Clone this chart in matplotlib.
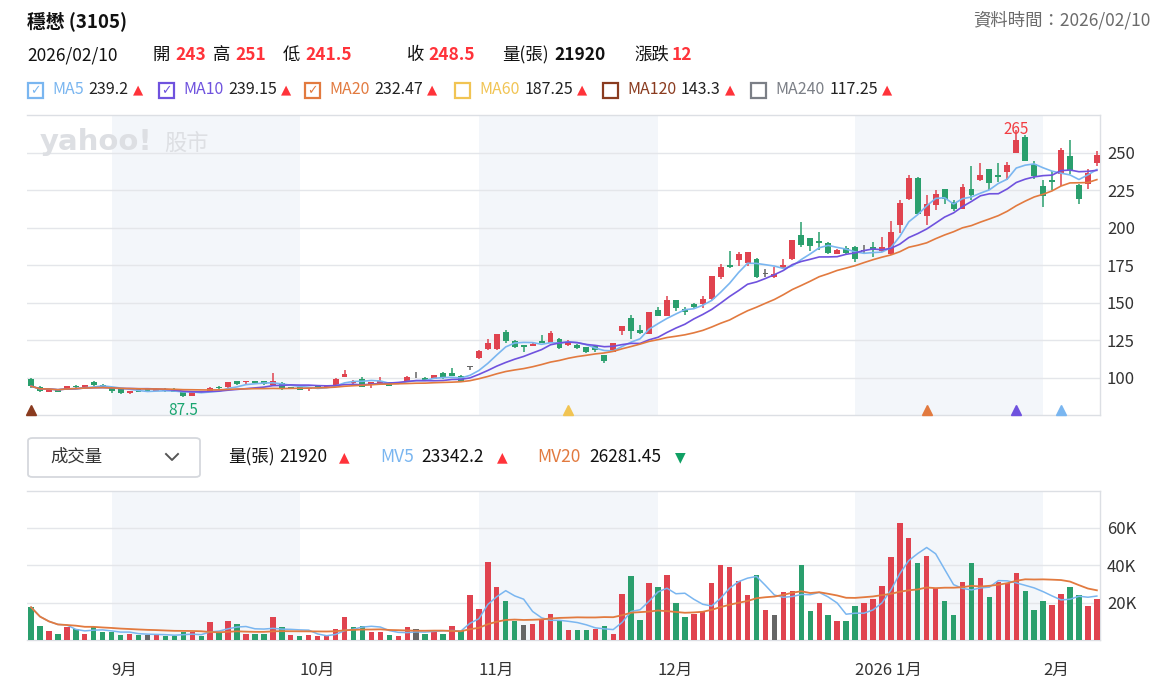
import numpy as np
import pandas as pd
import matplotlib
matplotlib.use('Agg')
import matplotlib.pyplot as plt
from matplotlib.patches import Rectangle, FancyBboxPatch
from matplotlib.lines import Line2D
import matplotlib.transforms as mtransforms

plt.rcParams['font.family'] = ['Noto Sans CJK TC', 'DejaVu Sans']

# --- data: 穩懋 (3105) daily bars, 2025/08/19 - 2026/02/10 -------------------
opens = [99.5, 93.8, 90.9, 92.0, 92.0, 94.7, 94.2, 97.1, 95.6, 93.1,
         92.4, 89.8, 92.7, 92.4, 91.3, 92.9, 92.9, 90.7, 88.2, 91.3,
         91.1, 93.9, 93.8, 97.8, 97.3, 97.8, 98.0, 95.3, 96.9, 93.9,
         94.2, 92.5, 94.6, 93.9, 95.1, 100.9, 96.4, 99.3, 95.3, 96.7,
         97.1, 96.8, 97.6, 100.4, 100.2, 99.3, 103.6, 103.6, 101.3, 107.5,
         113.1, 119.1, 119.1, 130.5, 124.9, 122.0, 121.6, 124.4, 123.6, 126.2,
         122.0, 122.0, 120.4, 121.3, 115.3, 117.3, 131.4, 140.3, 132.0, 129.5,
         145.3, 141.3, 152.0, 145.7, 149.3, 149.1, 152.4, 167.3, 175.3, 178.9,
         176.4, 179.5, 169.5, 167.4, 173.5, 179.1, 195.2, 193.0, 191.3, 190.3,
         182.9, 186.6, 187.0, 184.9, 187.3, 184.6, 182.9, 202.0, 219.0, 233.5,
         207.8, 215.2, 226.0, 217.2, 212.7, 225.7, 232.2, 239.1, 235.1, 237.3,
         250.3, 260.4, 242.5, 227.7, 231.7, 236.0, 247.8, 228.4, 229.5, 243.0]
highs = [100.0, 94.7, 93.3, 92.4, 94.9, 95.6, 95.5, 98.0, 96.3, 93.6,
         92.7, 91.5, 93.0, 92.6, 93.1, 93.1, 93.1, 91.0, 91.1, 91.5,
         94.0, 94.4, 97.3, 98.0, 98.0, 98.2, 98.2, 103.6, 97.3, 94.2,
         94.7, 94.0, 94.9, 94.8, 99.9, 105.3, 98.7, 100.9, 97.6, 100.4,
         97.3, 97.6, 101.3, 103.8, 100.5, 102.2, 104.0, 106.9, 101.8, 107.5,
         118.7, 125.8, 129.5, 132.0, 125.3, 122.3, 123.3, 128.7, 131.0, 126.5,
         125.0, 122.5, 120.8, 121.6, 115.6, 123.3, 134.9, 142.0, 135.3, 144.0,
         147.1, 154.7, 152.3, 147.3, 150.3, 154.5, 168.2, 176.2, 184.7, 184.2,
         183.8, 180.0, 172.4, 174.2, 179.5, 192.3, 203.7, 193.3, 197.0, 190.6,
         185.8, 188.0, 187.8, 188.5, 190.6, 194.3, 204.8, 218.7, 235.2, 233.8,
         221.8, 225.5, 226.3, 218.5, 229.5, 241.1, 243.4, 239.5, 243.4, 244.0,
         265.0, 262.0, 244.7, 231.7, 237.8, 253.4, 258.6, 229.5, 239.6, 251.0]
lows = [93.5, 90.4, 90.5, 90.4, 91.8, 93.1, 94.0, 94.9, 93.8, 89.8,
        89.1, 89.6, 90.7, 90.6, 91.1, 90.9, 90.5, 87.5, 88.0, 89.8,
        90.9, 92.9, 93.6, 95.6, 95.5, 96.0, 95.5, 95.0, 92.0, 93.0,
        91.8, 91.4, 93.5, 93.5, 94.9, 100.6, 96.0, 93.8, 93.1, 96.5,
        94.6, 96.5, 97.4, 100.0, 98.5, 99.1, 99.5, 101.0, 97.8, 105.5,
        112.9, 118.5, 118.8, 123.1, 120.0, 117.5, 121.0, 123.2, 123.0, 119.5,
        121.5, 119.5, 116.8, 117.2, 109.8, 117.0, 128.7, 126.1, 129.5, 129.3,
        141.0, 141.0, 144.7, 142.0, 146.4, 146.4, 152.0, 166.2, 173.1, 174.8,
        174.5, 166.7, 167.6, 166.4, 173.0, 178.8, 187.6, 184.9, 185.0, 182.8,
        182.5, 182.8, 177.6, 183.5, 180.4, 184.3, 181.8, 196.8, 218.5, 209.2,
        201.8, 212.0, 216.0, 211.6, 212.5, 218.8, 231.5, 225.0, 230.6, 231.7,
        250.0, 244.5, 232.8, 214.3, 225.0, 228.0, 236.2, 216.1, 226.1, 241.5]
closes = [94.5, 91.0, 92.4, 90.7, 94.7, 94.2, 95.3, 95.1, 94.2, 91.6,
          90.2, 91.3, 90.9, 90.9, 92.9, 91.1, 90.7, 87.8, 90.9, 90.2,
          93.6, 93.3, 97.1, 96.0, 97.8, 96.4, 95.8, 97.8, 92.4, 93.5,
          92.2, 93.2, 93.8, 94.5, 99.6, 102.4, 98.2, 94.2, 97.3, 97.8,
          94.9, 97.3, 100.4, 100.4, 98.7, 102.0, 99.8, 101.3, 98.0, 107.5,
          118.2, 123.6, 129.3, 124.9, 120.4, 120.4, 122.9, 123.6, 130.2, 119.8,
          124.2, 119.8, 117.1, 118.7, 111.6, 123.0, 134.5, 131.6, 129.8, 143.7,
          141.3, 152.0, 146.4, 144.1, 147.0, 152.9, 168.0, 173.8, 174.0, 182.9,
          183.7, 167.3, 169.5, 169.5, 175.0, 192.0, 188.8, 188.2, 189.8, 183.1,
          185.3, 183.1, 179.1, 184.9, 185.5, 187.0, 197.6, 216.8, 233.5, 209.6,
          216.0, 222.5, 219.1, 212.7, 227.3, 221.7, 235.1, 230.2, 234.0, 241.8,
          258.6, 244.7, 234.4, 221.0, 230.6, 251.9, 238.9, 219.0, 236.5, 248.5]
volumes = [17500, 7500, 4800, 3400, 6800, 5900, 3400, 6800, 4100, 4100,
           2700, 3400, 2700, 2700, 3400, 2000, 2000, 4100, 4100, 2000,
           9500, 4100, 10200, 8800, 3400, 3400, 3400, 12100, 6800, 2700,
           2000, 2700, 2000, 2000, 6100, 12100, 6800, 7500, 4100, 4100,
           2700, 2000, 6800, 6100, 3400, 4800, 3400, 7500, 4800, 24100,
           16800, 41600, 28200, 20900, 10200, 8000, 8800, 11400, 14100, 10200,
           5400, 5400, 5400, 6100, 7500, 3400, 24800, 34300, 10700, 30200,
           28200, 34800, 19500, 12100, 14100, 14800, 30200, 40200, 38900, 31600,
           24100, 34800, 16100, 13400, 25500, 26300, 40200, 15500, 19500, 13400,
           10200, 10200, 18200, 19500, 22100, 28900, 44300, 62300, 54300, 40900,
           45000, 27500, 20900, 13400, 30900, 40900, 32900, 22900, 30900, 30200,
           35500, 26300, 16100, 20900, 18800, 24800, 28200, 24100, 18200, 21920]

holidays = ['2025-09-29', '2025-10-06', '2025-10-10', '2025-10-24',
            '2025-12-25', '2026-01-01']
dates = pd.bdate_range('2025-08-19', '2026-02-10', freq='C', holidays=holidays)

month_labels = ['9月', '10月', '11月', '12月', '2026 1月', '2月']

ma_names = ['MA5', 'MA10', 'MA20', 'MA60', 'MA120', 'MA240']
ma_periods = [5, 10, 20, 60, 120, 240]
ma_values = ['239.2', '239.15', '232.47', '187.25', '143.3', '117.25']
ma_shown = [True, True, True, False, False, False]
ma_colors = ['#7ab6f0', '#6f52de', '#e27a3f', '#f1c453', '#8a3b1f', '#7b7f86']

last_vol = 21920
mv5_value = '23342.2'
mv20_value = '26281.45'

RED = '#e0434f'
GREEN = '#2a9f6d'
GRAY = '#666666'
BAND = '#f3f6fa'
GRID = '#e4e6ea'

o = np.array(opens)
h = np.array(highs)
l = np.array(lows)
c = np.array(closes)
v = np.array(volumes)
n = len(c)
x = np.arange(n)

candle_col = np.where(c > o, RED, np.where(c < o, GREEN, GRAY))
prev = np.concatenate([[o[0]], c[:-1]])
vol_col = np.where(c > prev, RED, np.where(c < prev, GREEN, GRAY))

close_s = pd.Series(c)
vol_s = pd.Series(v)

# month start indices
months = dates.to_period('M')
starts = [0] + [i for i in range(1, n) if months[i] != months[i - 1]]
bounds = starts + [n]

W, H = 1160, 688
fig = plt.figure(figsize=(W / 100, H / 100), dpi=100)
fig.patch.set_facecolor('white')


def fx(px):
    return px / W


def fy(py):
    return 1 - py / H


ax = fig.add_axes([fx(27), fy(415), fx(1100) - fx(27), fy(115) - fy(415)])
axv = fig.add_axes([fx(27), fy(640), fx(1100) - fx(27), fy(491) - fy(640)])

xlim = (-0.45, n - 0.65)
for a in (ax, axv):
    a.set_xlim(*xlim)
    for k in range(1, len(bounds) - 1, 2):
        a.axvspan(bounds[k], bounds[k + 1], color=BAND, lw=0, zorder=0)
    a.spines['left'].set_visible(False)
    for s in ('top', 'right', 'bottom'):
        a.spines[s].set_color('#dcdfe4')
        a.spines[s].set_linewidth(1)
    a.yaxis.tick_right()
    a.tick_params(axis='y', length=0, labelsize=12, labelcolor='#333333', pad=5)
    a.tick_params(axis='x', length=0)
    a.grid(axis='y', color=GRID, lw=1, zorder=1)
    a.set_axisbelow(True)

# --- price panel ------------------------------------------------------------
ax.set_ylim(75.3, 275.3)
ax.set_yticks([100, 125, 150, 175, 200, 225, 250])
ax.set_xticks([])

ax.vlines(x, l, h, colors=candle_col, lw=1.1, zorder=3)
body_low = np.minimum(o, c)
body_h = np.maximum(np.abs(c - o), 0.35)
ax.bar(x, body_h, bottom=body_low, width=0.66, color=candle_col, lw=0, zorder=4)

for name, p, show, col in zip(ma_names, ma_periods, ma_shown, ma_colors):
    if show:
        ax.plot(x, close_s.rolling(p, min_periods=1).mean(), color=col, lw=1.2, zorder=5)

# MA window start markers
trans = mtransforms.blended_transform_factory(ax.transData, ax.transAxes)
for p, col in zip(ma_periods, ma_colors):
    if n - p >= 0:
        ax.plot(n - p, 0.016, marker='^', ms=6.5, color=col, transform=trans,
                clip_on=False, zorder=6)

imax = int(np.argmax(h))
imin = int(np.argmin(l))
ax.annotate(f'{h[imax]:g}', (imax, h[imax]), xytext=(0, 1), textcoords='offset points',
            ha='center', va='center', color='#f23d42', fontsize=11, zorder=7)
ax.annotate(f'{l[imin]:g}', (imin, l[imin]), xytext=(0, -4), textcoords='offset points',
            ha='center', va='top', color='#19a56f', fontsize=11, zorder=7)

# watermark
ax.text(0.012, 0.91, 'yahoo!', transform=ax.transAxes, fontsize=21, fontweight='bold',
        color='#dddfe3', va='center', ha='left', family=['DejaVu Sans'], zorder=2)
ax.text(0.128, 0.905, '股市', transform=ax.transAxes, fontsize=16,
        color='#dddfe3', va='center', ha='left', zorder=2)

# --- volume panel -----------------------------------------------------------
axv.set_ylim(0, 79500)
axv.set_yticks([20000, 40000, 60000])
axv.set_yticklabels([f'{t // 1000}K' for t in [20000, 40000, 60000]])
axv.bar(x, v, width=0.6, color=vol_col, lw=0, zorder=3)
axv.plot(x, vol_s.rolling(5, min_periods=1).mean(), color=ma_colors[0], lw=1.1, zorder=4)
axv.plot(x, vol_s.rolling(20, min_periods=1).mean(), color=ma_colors[2], lw=1.3, zorder=4)
axv.set_xticks(starts[1:])
axv.set_xticklabels(month_labels, fontsize=12, color='#333333', ha='left')
axv.tick_params(axis='x', pad=16)

# --- header texts -----------------------------------------------------------
fig.text(fx(27), fy(21), '穩懋 (3105)', fontsize=13.5, fontweight='bold', va='center', color='#111111')
fig.text(fx(1151), fy(20), '資料時間：2026/02/10', fontsize=12.5, va='center', ha='right', color='#6b6b6b')

row2 = [(27, '2026/02/10', '#111111', 'normal'),
        (152, '開', '#111111', 'normal'), (175, f'{opens[-1]:g}', '#ff333a', 'bold'),
        (213, '高', '#111111', 'normal'), (235, f'{highs[-1]:g}', '#ff333a', 'bold'),
        (283, '低', '#111111', 'normal'), (305, f'{lows[-1]:g}', '#ff333a', 'bold'),
        (407, '收', '#111111', 'normal'), (428, f'{closes[-1]:g}', '#ff333a', 'bold'),
        (502, '量(張)', '#111111', 'normal'), (554, f'{last_vol}', '#111111', 'bold'),
        (634, '漲跌', '#111111', 'normal'), (672, f'{closes[-1] - closes[-2]:g}', '#ff333a', 'bold')]
for px_, s, col, wt in row2:
    fig.text(fx(px_), fy(55), s, fontsize=12.5, va='center', color=col, fontweight=wt)

box_x = [28, 159, 305, 455, 603, 751]
for bx, name, val, show, col in zip(box_x, ma_names, ma_values, ma_shown, ma_colors):
    fig.patches.append(Rectangle((fx(bx), fy(98)), fx(15), fy(83) - fy(98), transform=fig.transFigure,
                                 fill=False, edgecolor=col, lw=1.6))
    if show:
        fig.text(fx(bx + 7.5), fy(90.5), '✓', fontsize=9, ha='center', va='center', color=col,
                 family=['DejaVu Sans'])
    t = fig.text(fx(bx + 24), fy(90), name, fontsize=11.5, va='center', color=col)
    fig.canvas.draw()
    bb = t.get_window_extent()
    t2 = fig.text(fx(bb.x1 + 5), fy(90), val, fontsize=11.5, va='center', color='#222222')
    bb2 = t2.get_window_extent()
    fig.text(fx(bb2.x1 + 4), fy(90), '▲', fontsize=9.5, va='center', color='#ff333a',
             family=['DejaVu Sans'])

# volume header
fig.patches.append(FancyBboxPatch((fx(28), fy(477)), fx(172), fy(438) - fy(477),
                                  boxstyle='round,pad=0,rounding_size=0.004',
                                  transform=fig.transFigure, fill=False,
                                  edgecolor='#d5d8dd', lw=1.3))
fig.text(fx(50), fy(457), '成交量', fontsize=12.5, va='center', color='#333333')
fig.lines.append(Line2D([fx(166), fx(172), fx(178)], [fy(454), fy(460), fy(454)],
                        transform=fig.transFigure, color='#555555', lw=1.4))

vol_hdr = [(228, '量(張)', '#111111'), (279, f'{last_vol}', '#111111'), (339, '▲', '#ff333a'),
           (380, 'MV5', ma_colors[0]), (421, mv5_value, '#111111'), (497, '▲', '#ff333a'),
           (537, 'MV20', ma_colors[2]), (589, mv20_value, '#111111'), (675, '▼', '#10a064')]
for px_, s, col in vol_hdr:
    fs = 10 if s in ('▲', '▼') else 12.5
    fam = ['DejaVu Sans'] if s in ('▲', '▼') else None
    fig.text(fx(px_), fy(457), s, fontsize=fs, va='center', color=col, family=fam)

fig.savefig('out.png', dpi=100, facecolor='white')
